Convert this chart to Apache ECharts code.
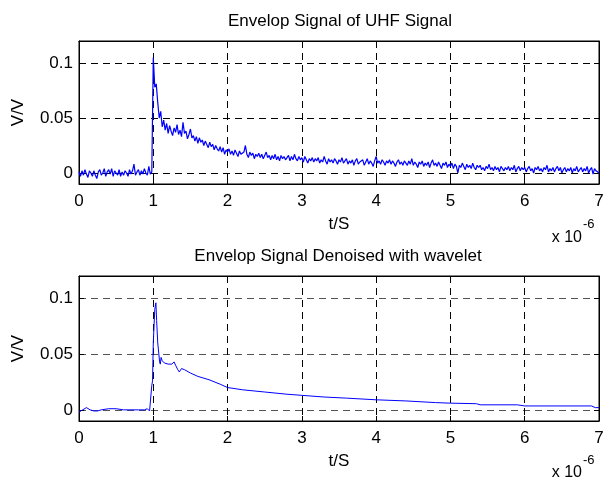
<!DOCTYPE html>
<html>
<head>
<meta charset="utf-8">
<script src="https://cdn.jsdelivr.net/npm/echarts@6/dist/echarts.min.js"></script>
<style>
html,body{margin:0;padding:0;background:#fff}
#chart{width:604px;height:480px}
</style>
</head>
<body>
<div id="chart"></div>
<script>
// raw envelope, one sample every 0.02 (x 1e-6 s), starting at t = 0
var rawStep = 0.02;
var rawValues = [
  0.001,-0.003,0.002,-0.002,0.003,-0.001,-0.004,0.002,0.000,-0.003,
  0.002,-0.002,-0.005,0.001,0.003,-0.002,0.000,0.004,-0.003,0.001,
  0.003,-0.001,0.004,-0.003,0.002,0.000,-0.002,0.003,-0.003,0.001,
  -0.002,0.002,0.000,-0.003,0.003,-0.001,0.002,0.008,-0.002,0.001,
  0.003,-0.002,0.002,-0.001,0.004,0.000,-0.002,0.006,-0.001,0.001,
  0.105,0.078,0.081,0.064,0.050,0.056,0.042,0.048,0.039,0.045,
  0.036,0.043,0.038,0.034,0.041,0.037,0.044,0.035,0.039,0.033,
  0.046,0.036,0.038,0.031,0.035,0.040,0.032,0.034,0.029,0.033,
  0.027,0.032,0.028,0.030,0.025,0.029,0.026,0.023,0.028,0.024,
  0.026,0.021,0.025,0.022,0.020,0.024,0.019,0.023,0.017,0.021,
  0.019,0.022,0.017,0.020,0.016,0.021,0.018,0.015,0.020,0.017,
  0.016,0.019,0.025,0.017,0.014,0.019,0.016,0.018,0.013,0.017,
  0.015,0.018,0.014,0.017,0.013,0.016,0.019,0.014,0.016,0.012,
  0.016,0.013,0.017,0.012,0.015,0.011,0.016,0.013,0.015,0.012,
  0.014,0.016,0.011,0.015,0.012,0.017,0.013,0.011,0.015,0.012,
  0.014,0.010,0.015,0.012,0.009,0.013,0.011,0.014,0.010,0.013,
  0.011,0.014,0.009,0.012,0.010,0.015,0.011,0.008,0.013,0.010,
  0.012,0.009,0.013,0.011,0.008,0.012,0.010,0.014,0.009,0.011,
  0.013,0.008,0.011,0.009,0.012,0.007,0.011,0.013,0.008,0.010,
  0.009,0.012,0.007,0.010,0.013,0.008,0.011,0.009,0.006,0.011,
  0.015,0.009,0.011,0.008,0.012,0.010,0.007,0.011,0.009,0.012,
  0.008,0.011,0.009,0.006,0.010,0.012,0.008,0.010,0.007,0.011,
  0.009,0.007,0.011,0.008,0.013,0.007,0.010,0.008,0.005,0.010,
  0.008,0.011,0.006,0.009,0.007,0.010,0.005,0.009,0.012,0.007,
  0.009,0.006,0.010,0.007,0.004,0.009,0.007,0.010,0.005,0.008,
  0.006,0.009,0.004,0.008,0.006,0.000,0.007,0.005,0.009,0.006,
  0.003,0.008,0.005,0.007,0.004,0.009,0.005,0.003,0.007,0.005,
  0.007,0.003,0.005,0.002,0.006,0.004,0.008,0.003,0.005,0.002,
  0.006,0.003,0.005,0.001,0.006,0.004,0.002,0.005,0.003,0.006,
  0.002,0.005,0.003,0.007,0.001,0.004,0.006,0.002,0.005,0.003,
  0.005,0.001,0.004,0.006,0.002,0.004,0.000,0.005,0.003,0.006,
  0.002,0.004,0.001,0.005,0.003,0.007,0.001,0.004,0.002,0.005,
  0.001,0.004,0.006,0.002,0.005,0.000,0.003,0.005,0.001,0.004,
  0.002,0.005,0.000,0.004,0.002,0.006,0.001,0.003,0.005,0.001,
  0.004,0.002,0.006,0.000,0.003,0.005,-0.001,0.004,0.002,0.003,
  0.000
];

// denoised envelope
var denoisedTime = [0,0.05,0.1,0.15,0.2,0.25,0.3,0.4,0.5,0.6,0.7,0.8,0.88,0.92,0.95,0.965,0.98,0.99,1.0,1.02,1.035,1.045,1.06,1.075,1.085,1.095,1.105,1.12,1.15,1.2,1.25,1.28,1.3,1.33,1.35,1.38,1.42,1.5,1.6,1.75,1.9,2.0,2.2,2.5,2.8,3.0,3.3,3.6,4.0,4.4,4.8,5.0,5.35,5.4,5.9,6.0,6.9,6.95,7.0];
var denoisedValues = [-0.002,0.000,0.002,0.000,-0.001,-0.001,0.000,0.001,0.001,0.000,0.000,0.000,0.000,0.001,-0.001,0.000,0.022,0.026,0.060,0.090,0.096,0.080,0.060,0.050,0.043,0.041,0.047,0.044,0.042,0.041,0.041,0.043,0.040,0.036,0.034,0.037,0.036,0.033,0.030,0.027,0.023,0.020,0.018,0.016,0.014,0.013,0.0115,0.0105,0.009,0.008,0.0065,0.006,0.0055,0.0045,0.0045,0.0035,0.0035,0.002,0.002];

var yTicks = [0, 0.05, 0.1];
var titles = ['Envelop Signal of UHF Signal', 'Envelop Signal Denoised with wavelet'];

var font = 'Liberation Sans, Arial, sans-serif';
var rawPairs = rawValues.map(function (v, i) { return [+(i * rawStep).toFixed(2), v]; });
var denoisedPairs = denoisedTime.map(function (t, i) { return [t, denoisedValues[i]]; });

var grids = [
  { left: 79, right: 5, top: 41, height: 143 },
  { left: 79, right: 5, top: 276, height: 145 }
];
grids.forEach(function (g) {
  g.show = true; g.borderColor = '#000'; g.borderWidth = 1; g.backgroundColor = '#fff';
  g.outerBoundsMode = 'none'; g.containLabel = false;
});

var xAxes = [], yAxes = [];
[0, 1].forEach(function (gi) {
  xAxes.push({
    type: 'value', gridIndex: gi, min: 0, max: 7, interval: 1,
    name: 't/S', nameLocation: 'middle', nameGap: 32,
    nameTextStyle: { color: '#000', fontSize: 17, fontFamily: font },
    axisLine: { show: true, onZero: false, lineStyle: { color: '#000', width: 1 } },
    axisTick: { show: true, inside: true, length: 5, lineStyle: { color: '#000' } },
    axisLabel: { color: '#000', fontSize: 17, fontFamily: font, margin: 9, hideOverlap: false },
    splitLine: { show: true, lineStyle: { color: '#000', width: 1, type: [7, 5] } }
  });
  xAxes.push({
    type: 'value', gridIndex: gi, position: 'top', min: 0, max: 7, interval: 1,
    axisLine: { show: true, onZero: false, lineStyle: { color: '#000' } },
    axisTick: { show: true, inside: true, length: 5, lineStyle: { color: '#000' } },
    axisLabel: { show: false }, splitLine: { show: false }
  });
  yAxes.push({
    type: 'value', gridIndex: gi, min: -0.01, max: 0.12,
    name: 'V/V', nameLocation: 'middle', nameGap: 52,
    nameTextStyle: { color: '#000', fontSize: 17, fontFamily: font },
    axisLine: { show: true, onZero: false, lineStyle: { color: '#000', width: 1 } },
    axisTick: { show: true, inside: true, length: 5, customValues: yTicks, lineStyle: { color: '#000' } },
    axisLabel: { color: '#000', fontSize: 17, fontFamily: font, margin: 6, customValues: yTicks },
    splitLine: { show: true, lineStyle: { color: gi === 0 ? '#000' : '#555', width: 1, type: [7, 5] } }
  });
  yAxes.push({
    type: 'value', gridIndex: gi, position: 'right', min: -0.01, max: 0.12,
    axisLine: { show: true, onZero: false, lineStyle: { color: '#000' } },
    axisTick: { show: true, inside: true, length: 5, customValues: yTicks, lineStyle: { color: '#000' } },
    axisLabel: { show: false }, splitLine: { show: false }
  });
});

function txt(x, y, text, size, align) {
  return { type: 'text', x: x, y: y, silent: true,
    style: { text: text, fill: '#000', fontSize: size, fontFamily: font, align: align, verticalAlign: 'middle' } };
}

var chart = echarts.init(document.getElementById('chart'), null, { renderer: 'canvas' });
chart.setOption({
  backgroundColor: '#fff',
  animation: false,
  grid: grids,
  xAxis: xAxes,
  yAxis: yAxes,
  graphic: [
    txt(340, 21, titles[0], 17, 'center'),
    txt(338, 256, titles[1], 17, 'center'),
    txt(582, 238, 'x 10', 16, 'right'),
    txt(583, 224, '-6', 13, 'left'),
    txt(582, 473, 'x 10', 16, 'right'),
    txt(583, 460, '-6', 13, 'left')
  ],
  series: [
    { type: 'line', xAxisIndex: 0, yAxisIndex: 0, data: rawPairs, showSymbol: false, silent: true,
      lineStyle: { color: '#0000ff', width: 1.2 } },
    { type: 'line', xAxisIndex: 2, yAxisIndex: 2, data: denoisedPairs, showSymbol: false, silent: true,
      lineStyle: { color: '#0000ff', width: 1 } }
  ]
});
</script>
</body>
</html>
